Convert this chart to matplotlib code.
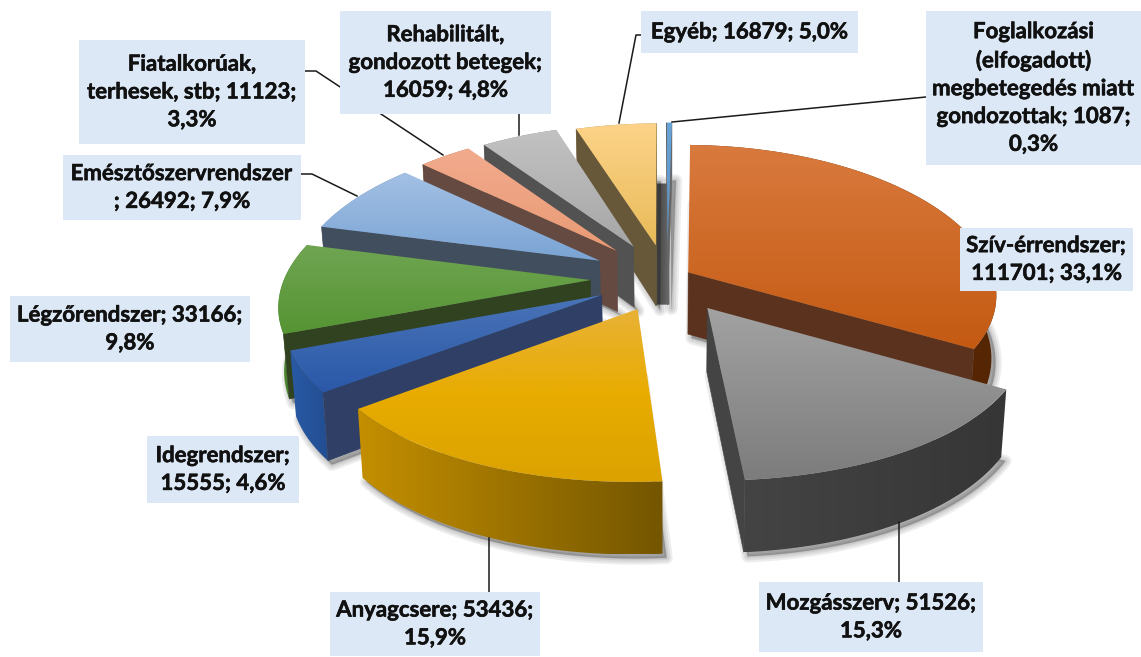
import numpy as np
import matplotlib
matplotlib.use("Agg")
import matplotlib.pyplot as plt
import matplotlib.patheffects as pe
from matplotlib.colors import LinearSegmentedColormap
from matplotlib.patches import Polygon, Rectangle

# data, clockwise from 12 o'clock
names = ["Szív-érrendszer", "Mozgásszerv", "Anyagcsere", "Idegrendszer", "Légzőrendszer",
         "Emésztőszervrendszer", "Fiatalkorúak, terhesek, stb", "Rehabilitált, gondozott betegek",
         "Egyéb", "Foglalkozási (elfogadott) megbetegedés miatt gondozottak"]
values = [111701, 51526, 53436, 15555, 33166, 26492, 11123, 16059, 16879, 1087]
explode = [0.08, 0.24, 0.23, 0.24, 0.25, 0.255, 0.255, 0.25, 0.235, 0.24]

# how the labels wrap, {v} value, {p} percent
label_text = ["Szív-érrendszer;\n{v}; {p}",
              "Mozgásszerv; {v};\n{p}",
              "Anyagcsere; {v};\n{p}",
              "Idegrendszer;\n{v}; {p}",
              "Légzőrendszer; {v};\n{p}",
              "Emésztőszervrendszer\n; {v}; {p}",
              "Fiatalkorúak,\nterhesek, stb; {v};\n{p}",
              "Rehabilitált,\ngondozott betegek;\n{v}; {p}",
              "Egyéb; {v}; {p}",
              "Foglalkozási\n(elfogadott)\nmegbetegedés miatt\ngondozottak; {v};\n{p}"]
label_box = [(960, 228, 1133, 291), (759, 582, 983, 652), (330, 592, 540, 656),
             (147, 436, 299, 503), (10, 296, 250, 362), (63, 155, 301, 220),
             (79, 40, 305, 144), (340, 11, 551, 114), (641, 11, 858, 53), (926, 11, 1141, 165)]
leaders = [None, [(899, 522), (899, 582)], [(489, 538), (489, 592)], None, None,
           [(301, 174), (312, 174), (357, 196)],
           [(305, 71), (316, 71), (443, 155)],
           [(519, 114), (519, 135)],
           [(619, 123), (636, 35), (641, 35)],
           [(672, 122), (926, 97)]]

# top gradient stops, outer wall gradient (left, right), radial wall colour
top_cols = [("#d97a3e", "#c45a12"), ("#a2a2a2", "#7c7c7c"), ("#e8b236", "#e8ac00", "#dba200"),
            ("#4a74b8", "#2a58a8"), ("#70a552", "#559433"), ("#a3c0e4", "#7aa4d4"),
            ("#f2ab8e", "#e99a74"), ("#c2c2c2", "#a6a6a6"), ("#fdd38a", "#e8bb58"),
            ("#6aa3d6", "#5a92c8")]
wall_cols = [("#6a3208", "#552604"), ("#444444", "#363636"), ("#c48f00", "#745600"),
             ("#2a5aa6", "#224e92"), ("#4f8a2e", "#3f7524"), ("#5f86b4", "#5f86b4"),
             ("#a8684c", "#a8684c"), ("#8a8a8a", "#8a8a8a"), ("#b09050", "#b09050"),
             ("#5a92c8", "#5a92c8")]
side_cols = ["#5a321e", "#444444", "#7a5c00", "#2f3f66", "#304220", "#414e5e",
             "#644a40", "#525252", "#67583a", "#666666"]

# projection of the tilted pie
cx, cy = 667, 278
rx, ry = 306, 144
persp_x = 0.15
persp_y = 0.12
depth = 62
pinch = 0.985
rotation = np.radians(1.0)

total = sum(values)
fig = plt.figure(figsize=(11.41, 6.57), dpi=100)
ax = fig.add_axes([0, 0, 1, 1])
ax.set_xlim(0, 1141)
ax.set_ylim(657, 0)
ax.axis("off")
ax.set_autoscale_on(False)


def project(u, v, low=False):
    x = rx * u / (1 + persp_x * v)
    s = 1 / (1 + persp_y * v)
    y = -ry * v * s
    if low:
        return cx + x * pinch, cy + y + depth * s
    return cx + x, cy + y


def grad_poly(pts, stops, z, horizontal=False):
    poly = Polygon(pts, closed=True, fc="none", ec="none", zorder=z)
    ax.add_patch(poly)
    pts = np.array(pts)
    grad = np.linspace(0, 1, 256)
    grad = grad.reshape(1, -1) if horizontal else grad.reshape(-1, 1)
    cmap = LinearSegmentedColormap.from_list("g", list(stops))
    im = ax.imshow(grad, cmap=cmap, aspect="auto", zorder=z, origin="upper",
                   extent=(pts[:, 0].min(), pts[:, 0].max(), pts[:, 1].max(), pts[:, 1].min()))
    im.set_clip_path(poly)


def wall_visible(apex, rim, inside):
    # a radial cut shows only when the top face lies above its edge on screen
    dx, dy = rim[0] - apex[0], rim[1] - apex[1]
    nx, ny = inside[0] - apex[0], inside[1] - apex[1]
    return (dx * ny - dy * nx) * dx < 0


def draw_slice(i, a0, a1, z):
    mid = (a0 + a1) / 2
    ou = explode[i] * np.sin(mid)
    ov = explode[i] * np.cos(mid)
    t = np.linspace(a0, a1, 60)
    us = ou + np.sin(t)
    vs = ov + np.cos(t)
    rim_top = [project(a, b) for a, b in zip(us, vs)]
    rim_low = [project(a, b, True) for a, b in zip(us, vs)]
    apex_top = project(ou, ov)
    apex_low = project(ou, ov, True)

    # soft shadow, stacked see-through outlines
    sil = np.array([apex_low] + rim_low + [apex_low]) + [4, 4]
    for lw in [9, 6, 3, 1]:
        ax.add_patch(Polygon(sil, closed=True, fc="black", ec="black", lw=lw, alpha=0.07,
                             joinstyle="round", zorder=z))

    # the very thin slice throws a grey band to its left
    if values[i] / total < 0.01:
        top_mid = ((apex_top[0] + rim_top[0][0]) / 2, (apex_top[1] + rim_top[0][1]) / 2)
        ax.plot([top_mid[0] - 5, apex_low[0] - 5], [top_mid[1], apex_low[1]],
                color=side_cols[i], lw=10, solid_capstyle="butt", zorder=z)

    grad_poly(rim_top + rim_low[::-1], wall_cols[i], z + 1, horizontal=True)
    inside = rim_top[len(rim_top) // 2]
    for k in (0, -1):
        if wall_visible(apex_top, rim_top[k], inside):
            ax.add_patch(Polygon([apex_top, rim_top[k], rim_low[k], apex_low], closed=True,
                                 fc=side_cols[i], ec=side_cols[i], lw=0.4, zorder=z + 2))
    grad_poly([apex_top] + rim_top, top_cols[i], z + 3)


edges = np.concatenate([[0], np.cumsum(values)]) / total * 2 * np.pi + rotation

# back to front, the right-hand big slices are painted last
order = [9, 8, 7, 6, 5, 4, 3, 2, 0, 1]
for n, i in enumerate(order):
    draw_slice(i, edges[i], edges[i + 1], 10 + n * 5)

for i, name in enumerate(names):
    pct = f"{100 * values[i] / total:.1f}%".replace(".", ",")
    x0, y0, x1, y1 = label_box[i]
    if leaders[i]:
        xs, ys = zip(*leaders[i])
        ax.plot(xs, ys, color="#1a1a1a", lw=1.1, zorder=100)
    ax.add_patch(Rectangle((x0, y0), x1 - x0, y1 - y0, fc="#dce8f5", ec="none", zorder=101 + i))
    t = ax.text((x0 + x1) / 2, (y0 + y1) / 2, label_text[i].format(v=values[i], p=pct),
                ha="center", va="center", family="Lato", weight="bold", fontsize=16,
                linespacing=1.4, color="#111111", zorder=101 + i)
    t.set_path_effects([pe.withStroke(linewidth=0.4, foreground="#111111")])

fig.savefig("out.png", dpi=100)
